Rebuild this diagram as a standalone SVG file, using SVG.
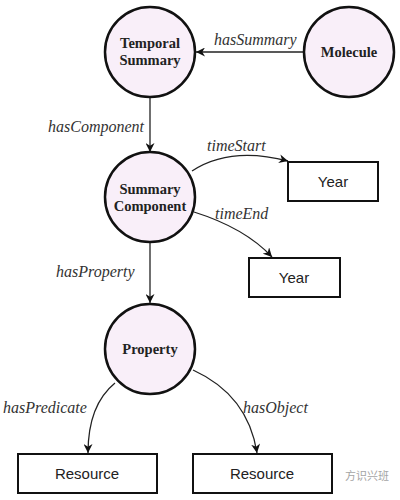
<svg xmlns="http://www.w3.org/2000/svg" width="400" height="500" viewBox="0 0 400 500">
<defs>
<marker id="arr" viewBox="0 0 10 10" refX="10" refY="5" markerWidth="9" markerHeight="9" markerUnits="userSpaceOnUse" orient="auto">
<path d="M0,0 L10,5 L0,10 L3,5 z" fill="#111"/>
</marker>
<style>
.node{fill:#f9eff9;stroke:#111;stroke-width:2.5}
.box{fill:#fff;stroke:#111;stroke-width:2}
.nt{font-family:"Liberation Serif",serif;font-weight:bold;font-size:14.5px;text-anchor:middle;fill:#222}
.bt{font-family:"Liberation Sans",sans-serif;font-size:15px;text-anchor:middle;fill:#222}
.lbl{font-family:"Liberation Serif",serif;font-style:italic;font-size:16px;fill:#333}
.edge{fill:none;stroke:#222;stroke-width:1.3;marker-end:url(#arr)}
</style>
</defs>
<rect width="400" height="500" fill="#fff"/>
<g id="connectors">
<path class="edge" d="M303,52 L196,52"/>
<text class="lbl" x="214" y="45">hasSummary</text>
<path class="edge" d="M150,97 L150,152"/>
<text class="lbl" x="48" y="132">hasComponent</text>
<path class="edge" d="M192,171 Q230,146 288,161"/>
<text class="lbl" x="207" y="151">timeStart</text>
<path class="edge" d="M194,212 Q245,228 272,257"/>
<text class="lbl" x="215" y="219">timeEnd</text>
<path class="edge" d="M150,242 L150,303"/>
<text class="lbl" x="56" y="277">hasProperty</text>
<path class="edge" d="M115,383 Q88,405 88,453"/>
<text class="lbl" x="3" y="413">hasPredicate</text>
<path class="edge" d="M193,370 Q248,395 257,453"/>
<text class="lbl" x="243" y="413">hasObject</text>
</g>
<g id="temporal-summary">
<circle class="node" cx="150" cy="52" r="45"/>
<text class="nt" x="150" y="48">Temporal</text>
<text class="nt" x="150" y="65">Summary</text>
</g>
<g id="molecule">
<circle class="node" cx="349" cy="52" r="45"/>
<text class="nt" x="349" y="57">Molecule</text>
</g>
<g id="summary-component">
<circle class="node" cx="150" cy="197" r="45"/>
<text class="nt" x="150" y="194">Summary</text>
<text class="nt" x="150" y="211">Component</text>
</g>
<g id="year-start">
<rect class="box" x="288" y="162" width="90" height="39"/>
<text class="bt" x="333" y="187">Year</text>
</g>
<g id="year-end">
<rect class="box" x="249" y="258" width="91" height="39"/>
<text class="bt" x="294" y="283">Year</text>
</g>
<g id="property">
<circle class="node" cx="150" cy="349" r="45"/>
<text class="nt" x="150" y="354">Property</text>
</g>
<g id="resource-predicate">
<rect class="box" x="18" y="454" width="139" height="39"/>
<text class="bt" x="87" y="479">Resource</text>
</g>
<g id="resource-object">
<rect class="box" x="193" y="454" width="139" height="39"/>
<text class="bt" x="262" y="479">Resource</text>
</g>
<g id="watermark" opacity="0.6">
<text x="345" y="480" font-family="'Noto Sans CJK SC',sans-serif" font-size="11" fill="#666">方识兴班</text>
</g>
</svg>
